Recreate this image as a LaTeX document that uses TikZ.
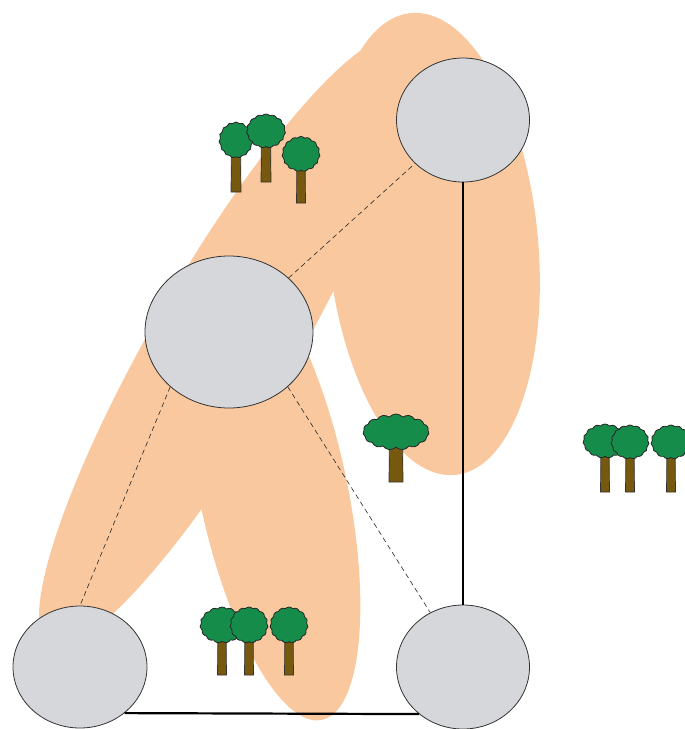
\documentclass[tikz,border=0pt]{standalone}
\usepackage{tikz}
\usetikzlibrary{positioning,shapes.geometric,shapes.symbols}
\definecolor{patch}{HTML}{F9C89E}
\definecolor{site}{HTML}{D5D7DB}
\definecolor{leaf}{HTML}{168C4A}
\definecolor{bark}{HTML}{76580F}

% tree: name, x, crown y, base y, crown width, crown height, trunk half width
\newcommand{\drawtree}[7]{%
  \draw[trunk] (#2-#7,#3) -- (#2+#7,#3) -- (#2+#7+0.5,#4) -- (#2-#7-0.5,#4) -- cycle;
  \node[crown,minimum width=#5,minimum height=#6] (#1) at (#2,#3) {};}

\begin{document}
\begin{tikzpicture}[x=1pt,y=-1pt,
   site/.style={ellipse,draw=black!80,line width=0.8pt,fill=site,inner sep=0pt},
   crown/.style={cloud,cloud puffs=15,cloud puff arc=100,cloud ignores aspect,
                 draw=black!85,line width=0.8pt,fill=leaf,inner sep=0pt},
   trunk/.style={draw=black!80,line width=0.7pt,fill=bark},
   link/.style={draw=black!85,line width=0.6pt,dash pattern=on 5pt off 3.5pt},
   road/.style={draw=black,line width=2.2pt}]
  \useasboundingbox (0,0) rectangle (685,729);

  % habitat patches
  \fill[patch,rotate around={59.9:(225,342)}] (225,342) ellipse [x radius=350,y radius=71];
  \fill[patch,rotate around={-78:(273,490)}] (273,490) ellipse [x radius=235,y radius=74];
  \fill[patch,rotate around={5.5:(433,244)}] (433,244) ellipse [x radius=105,y radius=232];

  % sites
  \node[site,minimum width=133,minimum height=124] (top) at (463,120) {};
  \node[site,minimum width=168,minimum height=152] (mid) at (229,332) {};
  \node[site,minimum width=134,minimum height=122] (bl) at (80,667) {};
  \node[site,minimum width=133,minimum height=124] (br) at (463,667) {};

  \draw[link] (mid) -- (top);
  \draw[link] (mid.223) -- (bl.north);
  \draw[link] (mid.317) -- (br.121);
  \draw[road] (top) -- (br);
  \draw[road] (bl.-46.5) -- (br.-133.5);

  % trees
  \drawtree{t1}{236}{140}{192}{34}{36}{4.5}
  \drawtree{t2}{266}{131}{182}{39}{34}{4.5}
  \drawtree{t3}{301}{154}{203}{38}{35}{4}
  \drawtree{s1}{396}{432}{482}{66}{36}{6.5}
  \drawtree{r1}{605}{441}{492}{44}{34}{4}
  \drawtree{r2}{630}{442}{492}{38}{34}{4}
  \drawtree{r3}{671}{442}{492}{40}{34}{4}
  \drawtree{b1}{222}{625}{675}{44}{36}{4}
  \drawtree{b2}{249}{625}{675}{38}{36}{4}
  \drawtree{b3}{289}{625}{675}{38}{36}{4}
\end{tikzpicture}
\end{document}
